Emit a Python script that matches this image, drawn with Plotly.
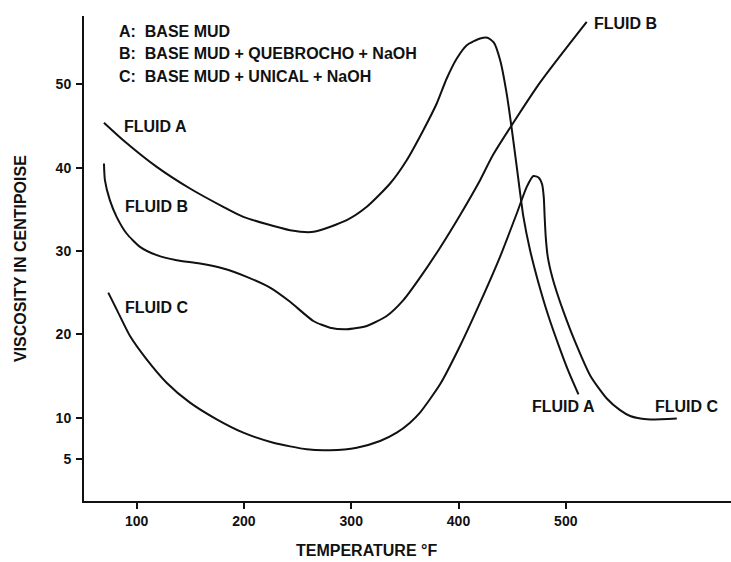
import plotly.graph_objects as go

# Fluid A: base mud
temp_A = [69.5, 87.5, 118.7, 149.7, 180.7, 199.4, 242.9, 265, 295.8, 314.5, 336.2, 351.7,
          367.2, 379.7, 389, 398.4, 407.7, 420.1, 427, 433, 439, 445, 450, 454.3, 460.5,
          466.7, 474.5, 483.8, 494.7, 503, 511.8]
visc_A = [45.4, 43.3, 40.1, 37.5, 35.3, 34.1, 32.5, 32.3, 33.7, 35.3, 38.1, 40.9,
          44.5, 47.7, 50.7, 53.1, 54.7, 55.5, 55.6, 55.0, 52.8, 48.8, 44.3, 40.1, 34.1,
          30.1, 26.2, 22.2, 18.2, 15.4, 12.8]

# Fluid B: base mud + quebrocho + NaOH
temp_B = [69.5, 70.4, 75, 81.3, 90.6, 103.1, 118.7, 137.3, 159.0, 180.7, 202.6, 224.3,
          243, 264.7, 280.2, 295.8, 314.5, 333.1, 348.6, 364.1, 382.8, 401.4, 420.1,
          432.5, 475.9, 519.5]
visc_B = [40.5, 38.5, 36.1, 34.1, 32.1, 30.5, 29.5, 28.9, 28.5, 27.9, 26.9, 25.6,
          23.9, 21.6, 20.8, 20.6, 21.0, 22.2, 24.1, 26.8, 30.4, 34.3, 38.5,
          41.6, 50.2, 57.5]

# Fluid C: base mud + unical + NaOH
temp_C = [73.5, 81.3, 93.8, 109.3, 127.9, 149.7, 174.6, 199.4, 227.4, 258.5, 280.2,
          305.1, 326.9, 342.4, 354.8, 364.1, 382.8, 401.4, 420.1, 438.7, 454.3, 463.6,
          469.8, 474.8, 477.9, 479.5, 480.3, 481.3, 483.2, 487.3, 492.0, 498.2, 507.1,
          523, 538.2, 550.6, 560, 575.5, 603.5]
visc_C = [25.0, 23.0, 19.8, 17.0, 14.2, 11.8, 9.8, 8.2, 7.0, 6.2, 6.1,
          6.4, 7.2, 8.2, 9.4, 10.6, 14.0, 18.6, 23.8, 29.3, 34.5, 37.7,
          39.0, 38.8, 38.0, 36.4, 34.1, 31.7, 29.3, 26.9, 24.9, 22.6, 19.6,
          15.0, 12.3, 10.9, 10.2, 9.8, 9.9]

x_ticks = [100, 200, 300, 400, 500]
y_ticks = [5, 10, 20, 30, 40, 50]

legend_lines = ["A:  BASE MUD",
                "B:  BASE MUD + QUEBROCHO + NaOH",
                "C:  BASE MUD + UNICAL + NaOH"]

FONT = "Liberation Sans, Arial, sans-serif"
INK = "#111111"

def b(s):
    return "<b>" + s + "</b>"

fig = go.Figure()
for tx, vy in [(temp_A, visc_A), (temp_B, visc_B), (temp_C, visc_C)]:
    fig.add_trace(go.Scatter(x=tx, y=vy, mode="lines",
                             line=dict(color=INK, width=2, shape="spline", smoothing=0.6),
                             hoverinfo="skip", showlegend=False))

ann = []
# curve labels
for txt, xx, yy in [("FLUID A", 86.3, 44.9), ("FLUID B", 87.2, 35.3), ("FLUID C", 87.2, 23.2),
                    ("FLUID B", 524.4, 57.3), ("FLUID A", 466.7, 11.3), ("FLUID C", 581.4, 11.3)]:
    ann.append(dict(x=xx, y=yy, xref="x", yref="y", text=b(txt), showarrow=False,
                    xanchor="left", yanchor="middle",
                    font=dict(family=FONT, size=16, color=INK)))
# legend text block
for txt, yy in zip(legend_lines, [56.3, 53.7, 51.0]):
    ann.append(dict(x=81.6, y=yy, xref="x", yref="y", text=b(txt), showarrow=False,
                    xanchor="left", yanchor="middle",
                    font=dict(family=FONT, size=16, color=INK)))
# axis titles
ann.append(dict(x=-64 / 647, y=(501 - 259) / 485, xref="paper", yref="paper",
                text=b("VISCOSITY IN CENTIPOISE"), textangle=-90, showarrow=False,
                xanchor="center", yanchor="middle",
                font=dict(family=FONT, size=16, color=INK)))
ann.append(dict(x=(366 - 84) / 647, y=-(550 - 501) / 485, xref="paper", yref="paper",
                text=b("TEMPERATURE °F"), showarrow=False,
                xanchor="center", yanchor="middle",
                font=dict(family=FONT, size=16, color=INK)))

fig.update_layout(
    width=731, height=562,
    margin=dict(l=84, r=0, t=16, b=61),
    paper_bgcolor="white", plot_bgcolor="white",
    annotations=ann,
    showlegend=False,
    xaxis=dict(range=[50.9, 654.0], tickvals=x_ticks, ticks="outside", ticklen=6,
               tickwidth=1.5, tickcolor=INK, showline=True, linecolor=INK, linewidth=2,
               showgrid=False, zeroline=False,
               ticktext=[b(str(v)) for v in x_ticks],
               tickfont=dict(family=FONT, size=14, color=INK)),
    yaxis=dict(range=[0, 58.2], tickvals=y_ticks, ticks="outside", ticklen=6,
               tickwidth=1.5, tickcolor=INK, showline=True, linecolor=INK, linewidth=2,
               showgrid=False, zeroline=False, ticklabelstandoff=2,
               ticktext=[b(str(v)) for v in y_ticks],
               tickfont=dict(family=FONT, size=14, color=INK)),
)

fig.write_html("out.html")
